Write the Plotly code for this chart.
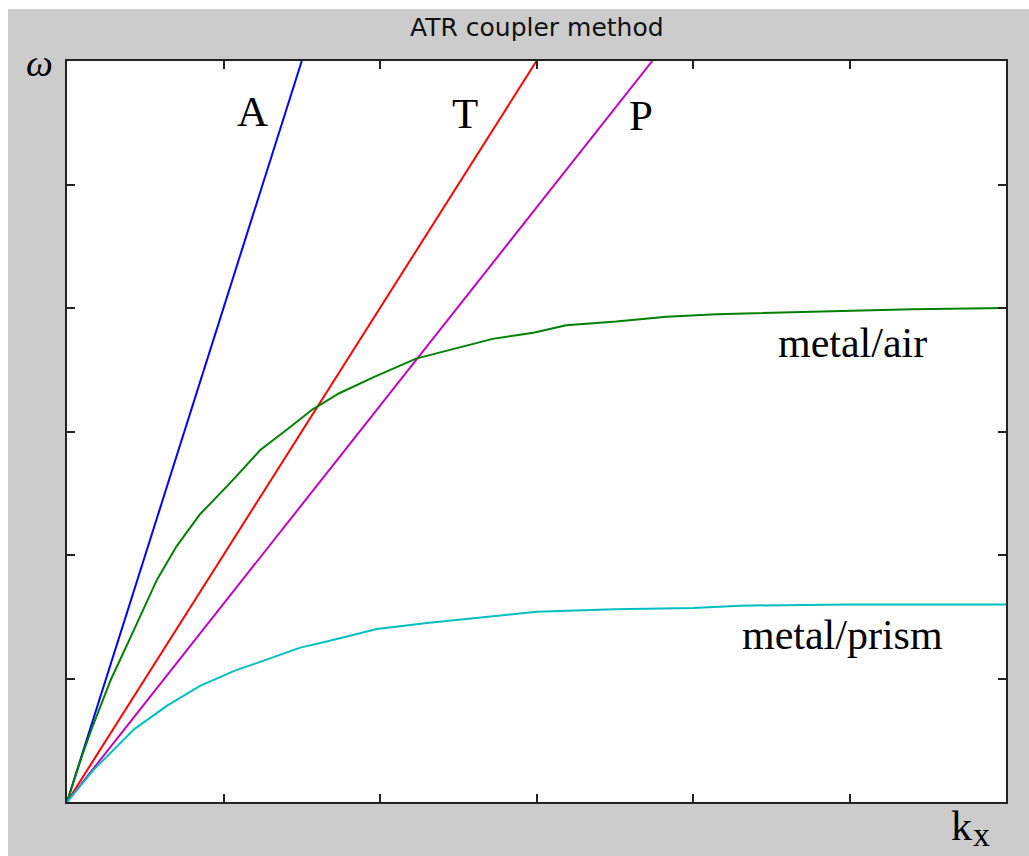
import plotly.graph_objects as go

# Light lines (straight dispersion lines)
air_k = [0.0, 1.5]
air_w = [0.0, 6.0]
tilt_k = [0.0, 3.0]
tilt_w = [0.0, 6.0]
prism_k = [0.0, 3.74]
prism_w = [0.0, 6.0]

# Surface plasmon dispersion, metal/air interface
sp_air_k = [0.0, 0.1, 0.16, 0.28, 0.43, 0.575, 0.70, 0.85, 1.04, 1.235, 1.41, 1.49, 1.57,
            1.74, 1.96, 2.23, 2.45, 2.72, 2.98, 3.19, 3.51, 3.83, 4.15, 4.7, 5.4, 6.0]
sp_air_w = [0.0, 0.39, 0.60, 0.99, 1.40, 1.80, 2.07, 2.33, 2.58, 2.85, 3.02, 3.10, 3.18,
            3.31, 3.44, 3.59, 3.66, 3.75, 3.80, 3.86, 3.89, 3.93, 3.95, 3.97, 3.99, 4.0]

# Surface plasmon dispersion, metal/prism interface
sp_prism_k = [0.0, 0.17, 0.43, 0.64, 0.85, 1.065, 1.28, 1.49, 1.66, 1.98, 2.3, 2.62,
              3.0, 3.5, 4.0, 4.3, 5.0, 6.0]
sp_prism_w = [0.0, 0.26, 0.59, 0.78, 0.94, 1.06, 1.155, 1.25, 1.30, 1.40, 1.45, 1.49,
              1.54, 1.56, 1.57, 1.59, 1.60, 1.60]

W, H = 1029, 856
ML, MR, MT, MB = 67, 23, 61, 54
PW, PH = W - ML - MR, H - MT - MB


def px(x):
    return (x - ML) / PW


def py(y):
    return (H - MB - y) / PH


fig = go.Figure()
series = [
    (air_k, air_w, "#0000ff"),
    (tilt_k, tilt_w, "#ff0000"),
    (prism_k, prism_w, "#bf00bf"),
    (sp_air_k, sp_air_w, "#008000"),
    (sp_prism_k, sp_prism_w, "#00bfbf"),
]
for kx, w, col in series:
    fig.add_trace(go.Scatter(x=kx, y=w, mode="lines",
                             line=dict(color=col, width=2),
                             hoverinfo="skip", showlegend=False))

axis_common = dict(range=[0, 6], dtick=1, tick0=0, showgrid=False, zeroline=False,
                   showticklabels=False, ticks="inside", ticklen=8, tickwidth=2,
                   tickcolor="#222222", showline=True, linecolor="#222222",
                   linewidth=2, mirror="ticks", fixedrange=True)
fig.update_xaxes(**axis_common)
fig.update_yaxes(**axis_common)

serif = "Liberation Serif, Times New Roman, serif"
labels = [
    ("A", 252, 112, 43),
    ("T", 465, 113, 43),
    ("P", 641, 115, 43),
    ("metal/air", 852, 343, 42),
    ("metal/prism", 842, 635, 42),
    ("k", 961, 826, 42),
]
annotations = []
for txt, x, y, size in labels:
    annotations.append(dict(text=txt, x=px(x), y=py(y), xref="paper", yref="paper",
                            xanchor="center", yanchor="middle", showarrow=False,
                            font=dict(family=serif, size=size, color="black")))
# subscript of the k label, anchored to the bottom edge of the figure
annotations.append(dict(text="x", x=px(981), y=py(855), xref="paper", yref="paper",
                        xanchor="center", yanchor="bottom", showarrow=False,
                        font=dict(family=serif, size=34, color="black")))
annotations.append(dict(text="<i>ω</i>", x=px(39), y=py(63), xref="paper", yref="paper",
                        xanchor="center", yanchor="middle", showarrow=False,
                        font=dict(family=serif, size=38, color="black")))
annotations.append(dict(text="ATR coupler method", x=0.5, y=py(27), xref="paper",
                        yref="paper", xanchor="center", yanchor="middle",
                        showarrow=False,
                        font=dict(family="DejaVu Sans, sans-serif", size=25,
                                  color="#111111")))

# thin white border along the top and left of the figure
shapes = [
    dict(type="rect", xref="paper", yref="paper", x0=px(0), x1=px(W), y0=py(9),
         y1=py(0), fillcolor="white", line=dict(width=0), layer="below"),
    dict(type="rect", xref="paper", yref="paper", x0=px(0), x1=px(8), y0=py(H),
         y1=py(0), fillcolor="white", line=dict(width=0), layer="below"),
]

fig.update_layout(width=W, height=H, margin=dict(l=ML, r=MR, t=MT, b=MB),
                  paper_bgcolor="#cccccc", plot_bgcolor="white",
                  annotations=annotations, shapes=shapes, showlegend=False)

fig.write_html("out.html", config={"displayModeBar": False})
